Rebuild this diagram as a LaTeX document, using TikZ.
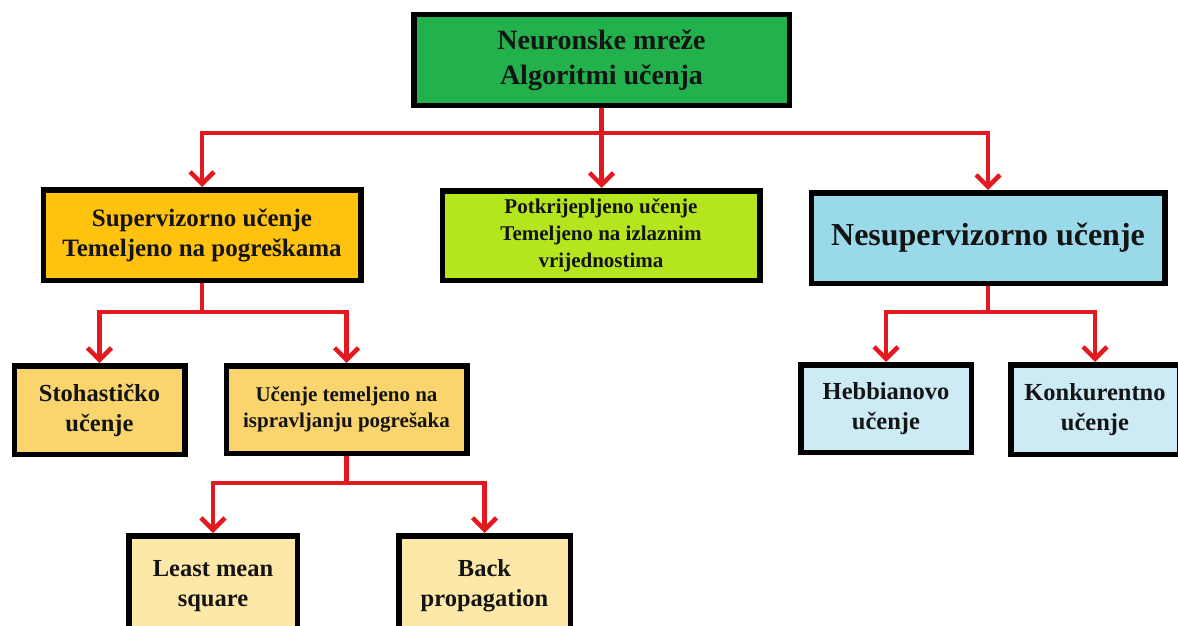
\documentclass[tikz,border=0pt]{standalone}
\usepackage{fontspec}
\setmainfont{Liberation Serif}
\usetikzlibrary{arrows.meta}
\definecolor{cTop}{HTML}{22B14C}
\definecolor{cSup}{HTML}{FFC20E}
\definecolor{cPot}{HTML}{B5E61D}
\definecolor{cNes}{HTML}{99D9EA}
\definecolor{cSupL}{HTML}{FAD56E}
\definecolor{cSupLL}{HTML}{FDE8A8}
\definecolor{cNesL}{HTML}{CDEBF5}
\definecolor{cRed}{HTML}{E3191F}
\begin{document}
\begin{tikzpicture}[x=1pt,y=-1pt,
  box/.style={draw=black, line width=5.5pt, align=center, inner sep=0pt, font=\bfseries, text=black!92},
  redl/.style={draw=cRed, line width=4.5pt},
  arr/.style={redl, -{Straight Barb[length=12pt,width=24pt]}}]
\path[use as bounding box] (0,0) rectangle (1178,626);
\clip (0,0) rectangle (1178,626);
\fill[white] (0,0) rectangle (1178,626);
% nodes
\node[box, fill=cTop, minimum width=375.5pt, minimum height=90.5pt,
  font=\bfseries\fontsize{28}{35}\selectfont] (top) at (601.5,60) {Neuronske mreže\\Algoritmi učenja};
\node[box, fill=cSup, minimum width=317.5pt, minimum height=90.5pt,
  font=\bfseries\fontsize{25}{30}\selectfont] (sup) at (202,235) {Supervizorno učenje\\Temeljeno na pogreškama};
\node[box, fill=cPot, minimum width=317.5pt, minimum height=89.5pt,
  font=\bfseries\fontsize{21}{27}\selectfont] (pot) at (601,235.5) {Potkrijepljeno učenje\\Temeljeno na izlaznim\\vrijednostima};
\node[box, fill=cNes, minimum width=353.5pt, minimum height=90.5pt,
  font=\bfseries\fontsize{32}{38}\selectfont] (nes) at (988,238) {Nesupervizorno učenje};
\node[box, fill=cSupL, minimum width=170.5pt, minimum height=88.5pt,
  font=\bfseries\fontsize{24.5}{30}\selectfont] (sto) at (99.5,410) {Stohastičko\\učenje};
\node[box, fill=cSupL, minimum width=240.5pt, minimum height=87.5pt,
  font=\bfseries\fontsize{21}{26}\selectfont] (ucs) at (346.5,409.5) {Učenje temeljeno na\\ispravljanju pogrešaka};
\node[box, fill=cSupLL, minimum width=168.5pt, minimum height=100pt,
  font=\bfseries\fontsize{24.5}{30}\selectfont, anchor=north] (lms) at (213,533) {Least mean\\square};
\node[box, fill=cSupLL, minimum width=171.5pt, minimum height=100pt,
  font=\bfseries\fontsize{24.5}{30}\selectfont, anchor=north] (bp) at (484.5,533) {Back\\propagation};
\node[box, fill=cNesL, minimum width=170.5pt, minimum height=87.5pt,
  font=\bfseries\fontsize{24.5}{30}\selectfont] (heb) at (886,408.5) {Hebbianovo\\učenje};
\node[box, fill=cNesL, minimum width=168.5pt, minimum height=89.5pt,
  font=\bfseries\fontsize{24.5}{30}\selectfont] (kon) at (1095,409.5) {Konkurentno\\učenje};
% connectors
\coordinate (b1) at (top.south |- 0,133);
\coordinate (b2) at (sup.south |- 0,312);
\coordinate (b3) at (ucs.south |- 0,483);
\coordinate (b4) at (nes.south |- 0,312);
\draw[redl] (top.south) -- (b1);
\draw[arr] (b1) -| (sup.north);
\draw[arr] (b1) -- (b1 |- pot.north);
\draw[arr] (b1) -| (nes.north);
\draw[redl] (sup.south) -- (b2);
\draw[arr] (b2) -| (sto.north);
\draw[arr] (b2) -| (ucs.north);
\draw[redl] (ucs.south) -- (b3);
\draw[arr] (b3) -| (lms.north);
\draw[arr] (b3) -| (bp.north);
\draw[redl] (nes.south) -- (b4);
\draw[arr] (b4) -| (heb.north);
\draw[arr] (b4) -| (kon.north);
\end{tikzpicture}
\end{document}
